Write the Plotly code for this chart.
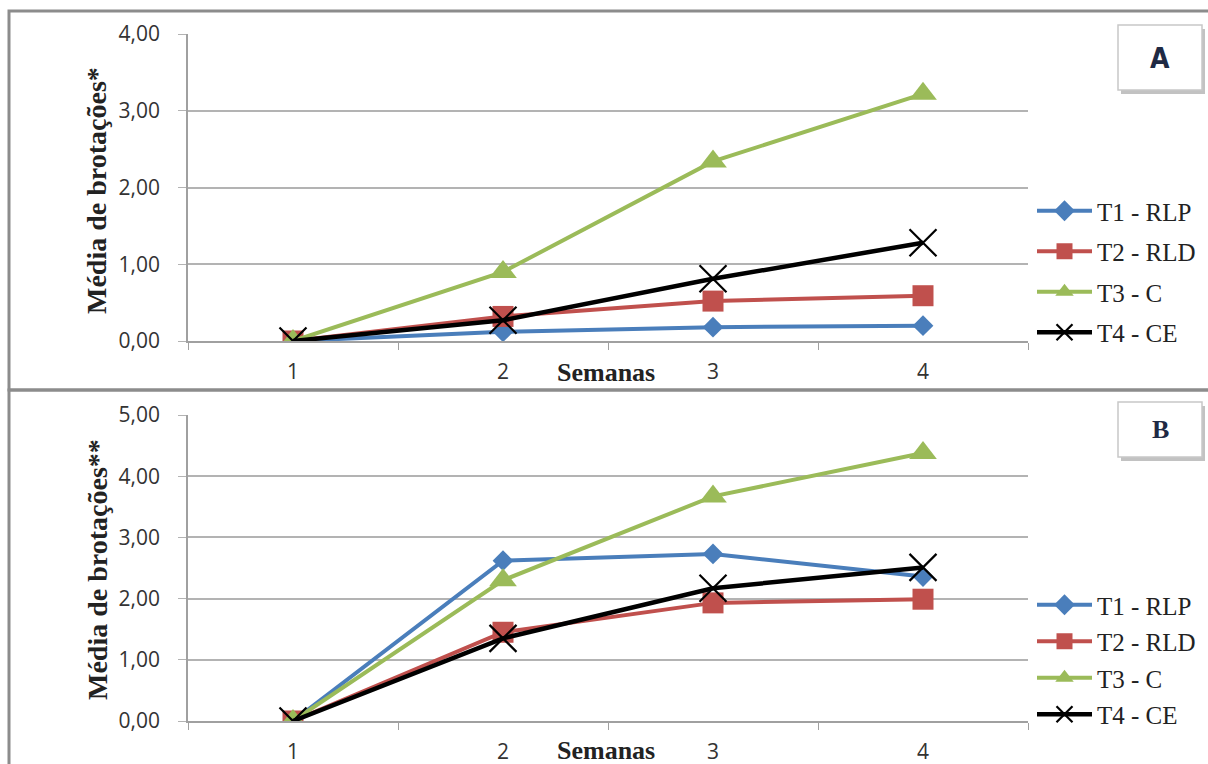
import plotly.graph_objects as go

W, H = 1208, 764

weeks = ["1", "2", "3", "4"]
series_names = ["T1 - RLP", "T2 - RLD", "T3 - C", "T4 - CE"]

# Panel A
a_t1 = [0.00, 0.12, 0.18, 0.20]
a_t2 = [0.00, 0.32, 0.52, 0.59]
a_t3 = [0.00, 0.90, 2.34, 3.22]
a_t4 = [0.00, 0.27, 0.81, 1.28]

# Panel B
b_t1 = [0.00, 2.62, 2.73, 2.36]
b_t2 = [0.00, 1.45, 1.93, 1.99]
b_t3 = [0.00, 2.30, 3.67, 4.38]
b_t4 = [0.00, 1.35, 2.17, 2.51]

y_title_a = "Média de brotações*"
y_title_b = "Média de brotações**"
x_title = "Semanas"
panel_labels = ["A", "B"]

colors = ["#4A7EBB", "#C0504D", "#9BBB59", "#000000"]
symbols = ["diamond", "square", "triangle-up", "x-thin"]
msizes = [16, 21, 24, 27]

def px_x(v):
    return v / W

def px_y(v):
    return 1 - v / H

fig = go.Figure()

panels = [
    ([a_t1, a_t2, a_t3, a_t4], "x", "y", "legend"),
    ([b_t1, b_t2, b_t3, b_t4], "x2", "y2", "legend2"),
]
for vals, xa, ya, lg in panels:
    for i, (name, v) in enumerate(zip(series_names, vals)):
        if symbols[i] == "x-thin":
            marker = dict(symbol="x-thin", size=msizes[i], color="black",
                          line=dict(color="black", width=2.2))
        else:
            marker = dict(symbol=symbols[i], size=msizes[i], color=colors[i],
                          line=dict(width=0))
        fig.add_trace(go.Scatter(
            x=weeks, y=v, name=name, mode="lines+markers",
            line=dict(color=colors[i], width=4 if i < 3 else 4.5),
            marker=marker, xaxis=xa, yaxis=ya, legend=lg,
            legendgroup=lg + str(i), showlegend=True,
        ))

grid_c = "#B3B3B3"
axis_c = "#A0A0A0"
tick_font = dict(family="Open Sans, Lato, sans-serif", size=21, color="#333333")

xcommon = dict(type="category", range=[-0.5, 3.5], tickson="boundaries",
               ticks="outside", ticklen=7, tickcolor=axis_c, showgrid=False,
               showline=True, linecolor=axis_c, linewidth=1.5,
               tickfont=tick_font, ticklabelstandoff=11, zeroline=False)
ycommon = dict(ticks="outside", ticklen=8, tickcolor=grid_c, showgrid=True,
               gridcolor=grid_c, gridwidth=1.5, showline=True, linecolor=axis_c,
               linewidth=1.5, tickformat=".2f", tickfont=tick_font,
               ticklabelstandoff=14, zeroline=False)

legend_font = dict(family="Liberation Serif, Times New Roman, serif",
                   size=25, color="#222222")

fig.update_layout(
    width=W, height=H,
    margin=dict(l=0, r=0, t=0, b=0, autoexpand=False),
    paper_bgcolor="white", plot_bgcolor="white",
    separators=",.",
    xaxis=dict(domain=[px_x(188), px_x(1028)], anchor="y", **xcommon),
    yaxis=dict(domain=[px_y(341), px_y(34)], anchor="x", range=[0, 4],
               dtick=1, **ycommon),
    xaxis2=dict(domain=[px_x(188), px_x(1028)], anchor="y2", **xcommon),
    yaxis2=dict(domain=[px_y(721), px_y(415)], anchor="x2", range=[0, 5],
                dtick=1, **ycommon),
    legend=dict(x=px_x(1032), y=px_y(188), xanchor="left", yanchor="top",
                font=legend_font, itemwidth=55,
                tracegroupgap=5, bgcolor="rgba(0,0,0,0)"),
    legend2=dict(x=px_x(1032), y=px_y(582), xanchor="left", yanchor="top",
                 font=legend_font, itemwidth=55,
                 tracegroupgap=1, bgcolor="rgba(0,0,0,0)"),
)

title_font = dict(family="Liberation Serif, Times New Roman, serif", size=28,
                  color="#222222")
ann = []
for txt, yc in [(y_title_a, 190), (y_title_b, 569)]:
    ann.append(dict(text="<b>%s</b>" % txt, x=px_x(97), y=px_y(yc),
                    xref="paper", yref="paper", showarrow=False,
                    textangle=-90, font=title_font, xanchor="center",
                    yanchor="middle"))
for yc in [372, 750]:
    ann.append(dict(text="<b>%s</b>" % x_title, x=px_x(606), y=px_y(yc),
                    xref="paper", yref="paper", showarrow=False,
                    font=dict(family="Liberation Serif, Times New Roman, serif",
                              size=26, color="#222222"),
                    xanchor="center", yanchor="middle"))

shapes = []
border_c = "#8C8C8C"
shapes.append(dict(type="rect", xref="paper", yref="paper",
                   x0=px_x(9), x1=px_x(1230), y0=px_y(390), y1=px_y(11),
                   line=dict(color=border_c, width=3), fillcolor="rgba(0,0,0,0)",
                   layer="below"))
shapes.append(dict(type="rect", xref="paper", yref="paper",
                   x0=px_x(9), x1=px_x(1230), y0=px_y(790), y1=px_y(390),
                   line=dict(color=border_c, width=3), fillcolor="rgba(0,0,0,0)",
                   layer="below"))

boxes = [(1118, 1202, 25, 90, panel_labels[0], 58,
          dict(family="DejaVu Sans Condensed, DejaVu Sans, sans-serif", size=28, color="#1F2A44")),
         (1118, 1202, 402, 457, panel_labels[1], 430,
          dict(family="Liberation Serif, Times New Roman, serif", size=26, color="#1F2A44"))]
for x0, x1, y0, y1, lab, yc, fnt in boxes:
    shapes.append(dict(type="rect", xref="paper", yref="paper",
                       x0=px_x(x0 + 3), x1=px_x(x1 + 3), y0=px_y(y1 + 4), y1=px_y(y0 + 4),
                       line=dict(width=0), fillcolor="rgba(120,120,120,0.45)"))
    shapes.append(dict(type="rect", xref="paper", yref="paper",
                       x0=px_x(x0), x1=px_x(x1), y0=px_y(y1), y1=px_y(y0),
                       line=dict(color="#C8C8C8", width=1.5), fillcolor="white"))
    ann.append(dict(text="<b>%s</b>" % lab, x=px_x((x0 + x1) / 2), y=px_y(yc),
                    xref="paper", yref="paper", showarrow=False, font=fnt,
                    xanchor="center", yanchor="middle"))

fig.update_layout(annotations=ann, shapes=shapes)

fig.write_html("out.html",
               config={"displayModeBar": False},
               post_script="document.body.style.margin='0';"
                           "document.body.style.overflow='hidden';")
